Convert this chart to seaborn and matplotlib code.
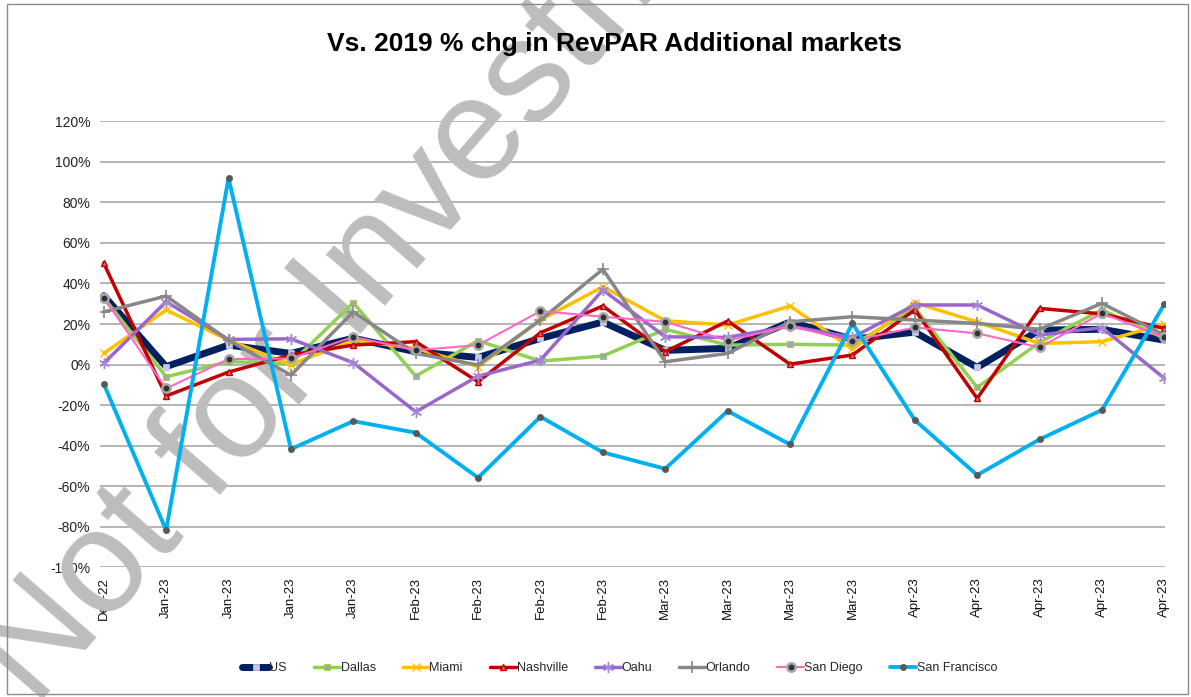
import matplotlib
matplotlib.use("Agg")
import matplotlib.pyplot as plt
import seaborn as sns
import numpy as np
import pandas as pd
from matplotlib.patches import Rectangle

# ---------------- data ----------------
periods = ["Dec-22", "Jan-23", "Jan-23", "Jan-23", "Jan-23",
           "Feb-23", "Feb-23", "Feb-23", "Feb-23",
           "Mar-23", "Mar-23", "Mar-23", "Mar-23",
           "Apr-23", "Apr-23", "Apr-23", "Apr-23", "Apr-23"]

us            = [34, -1, 9.6, 5.5, 13, 6.3, 3.5, 12.9, 21, 7, 8, 21, 12.5, 16, -1.4, 17, 17.4, 12]
dallas        = [33, -6, 1.4, 0.6, 30.5, -5.7, 11.8, 1.7, 4.2, 17.4, 9.6, 10, 9.6, 28, -11.3, 11, 27, 13]
miami         = [5.5, 27, 12, 0, 12, 8, -1, 22, 38.4, 21.6, 19.5, 28.9, 7.6, 30.5, 21, 10.4, 11.3, 20]
nashville     = [50, -15.5, -3.7, 4.7, 9.6, 11.3, -8.5, 15.7, 28.9, 6.3, 21.5, 0.2, 4.7, 27, -16.7, 27.7, 25, 17.8]
oahu          = [0.6, 31, 12.4, 12.7, 0.9, -23.3, -5.7, 2.2, 36.8, 13.7, 13.4, 19, 13.4, 29.4, 29.4, 14.6, 18.2, -6.8]
orlando       = [26, 33.8, 12, -5.2, 26, 5.5, -0.2, 22, 47, 1.4, 5.5, 21.1, 23.6, 22, 20.3, 17.4, 30.2, 14.6]
san_diego     = [33, -11.8, 2.7, 3, 13.7, 7.1, 9.6, 26.4, 23.6, 21.1, 11.8, 19, 11.8, 18.3, 15.4, 8.5, 25.3, 13.4]
san_francisco = [-9.5, -81.7, 92, -41.7, -27.9, -33.6, -55.8, -25.7, -43.3, -51.4, -22.9, -39.4, 20.3, -27.4, -54.5, -36.9, -22.4, 29.8]

series_names = ["US", "Dallas", "Miami", "Nashville", "Oahu", "Orlando", "San Diego", "San Francisco"]
series_vals = [us, dallas, miami, nashville, oahu, orlando, san_diego, san_francisco]

y_ticks = [-100, -80, -60, -40, -20, 0, 20, 40, 60, 80, 100, 120]

# ---------------- styles ----------------
styles = {
    "US":            dict(color="#002060", lw=5.0, marker="s", ms=5, mfc="#c8c8e6", mec="#c8c8e6", mew=0.5),
    "Dallas":        dict(color="#92D050", lw=2.5, marker="s", ms=4.5, mfc="#a6a6a6", mec="#92D050", mew=0.6),
    "Miami":         dict(color="#FFC000", lw=2.5, marker="x", ms=6, mfc="#FFC000", mec="#FFC000", mew=1.0),
    "Nashville":     dict(color="#C00000", lw=2.5, marker="^", ms=5, mfc="#e06666", mec="#C00000", mew=1.0),
    "Oahu":          dict(color="#9966CC", lw=2.5, marker=(6, 2, 0), ms=8, mfc="#a586d8", mec="#a586d8", mew=1.0),
    "Orlando":       dict(color="#878787", lw=2.5, marker="+", ms=8, mfc="#878787", mec="#878787", mew=1.2),
    "San Diego":     dict(color="#FF66CC", lw=1.5, marker="o", ms=6, mfc="#303030", mec="#a6a6a6", mew=1.8),
    "San Francisco": dict(color="#00B0F0", lw=2.8, marker="o", ms=4.5, mfc="#595959", mec="#595959", mew=0.5),
}

sns.set_theme(style="white")
plt.rcParams["font.family"] = ["Liberation Sans", "DejaVu Sans"]

fig = plt.figure(figsize=(11.91, 6.97), dpi=100)
ax = fig.add_axes([100 / 1191, 1 - 567.3 / 697, (1165 - 100) / 1191, (567.3 - 121.3) / 697])

positions = np.arange(len(periods))
for z, (name, vals) in enumerate(zip(series_names, series_vals)):
    st = styles[name]
    df = pd.DataFrame({"pos": positions, "val": vals})
    sns.lineplot(data=df, x="pos", y="val", ax=ax, color=st["color"], linewidth=st["lw"],
                 marker=st["marker"], markersize=st["ms"], markerfacecolor=st["mfc"],
                 markeredgecolor=st["mec"], markeredgewidth=st["mew"], label=name,
                 sort=False, zorder=3 + z)

ax.set_xlim(-0.06, 17.01)
ax.set_ylim(-100, 120)
ax.set_yticks(y_ticks)
ax.set_yticklabels([f"{t}%" for t in y_ticks], fontsize=10, color="#222222")
ax.set_xticks(positions)
ax.set_xticklabels(periods, rotation=90, fontsize=9.5, color="#111111")
ax.tick_params(axis="both", length=0, pad=7)
ax.set_xlabel("")
ax.set_ylabel("")
ax.grid(axis="y", color="#a0a0a0", linewidth=1.1)
ax.grid(axis="x", visible=False)
ax.set_axisbelow(True)
for sp in ax.spines.values():
    sp.set_visible(False)

# Title
fig.text(0.516, 1 - 44 / 697, "Vs. 2019 % chg in RevPAR Additional markets",
         ha="center", va="center", fontsize=19, fontweight="bold", color="black")

# Legend
pos = ax.get_position()
leg = ax.legend(loc="center", bbox_to_anchor=(0.5 - 0.012, (1 - 668 / 697 - pos.y0) / pos.height),
                bbox_transform=ax.transAxes, ncol=8, frameon=False,
                handlelength=2.1, columnspacing=2.15, handletextpad=0.05,
                prop={"size": 9})

# Watermark
ax.text(35 / 1191, 1 - 708 / 697, "Not for Investment Purposes", transform=fig.transFigure,
        rotation=49, rotation_mode="anchor", ha="left", va="baseline",
        fontsize=106, color="#bdbdbd", zorder=2, clip_on=False)

# Outer border
fig.patches.append(Rectangle((7 / 1191, 1 - 694 / 697), (1188 - 7) / 1191, (694 - 4) / 697,
                             transform=fig.transFigure, fill=False, edgecolor="#8c8c8c", lw=1.0))

fig.savefig("out.png", dpi=100)
